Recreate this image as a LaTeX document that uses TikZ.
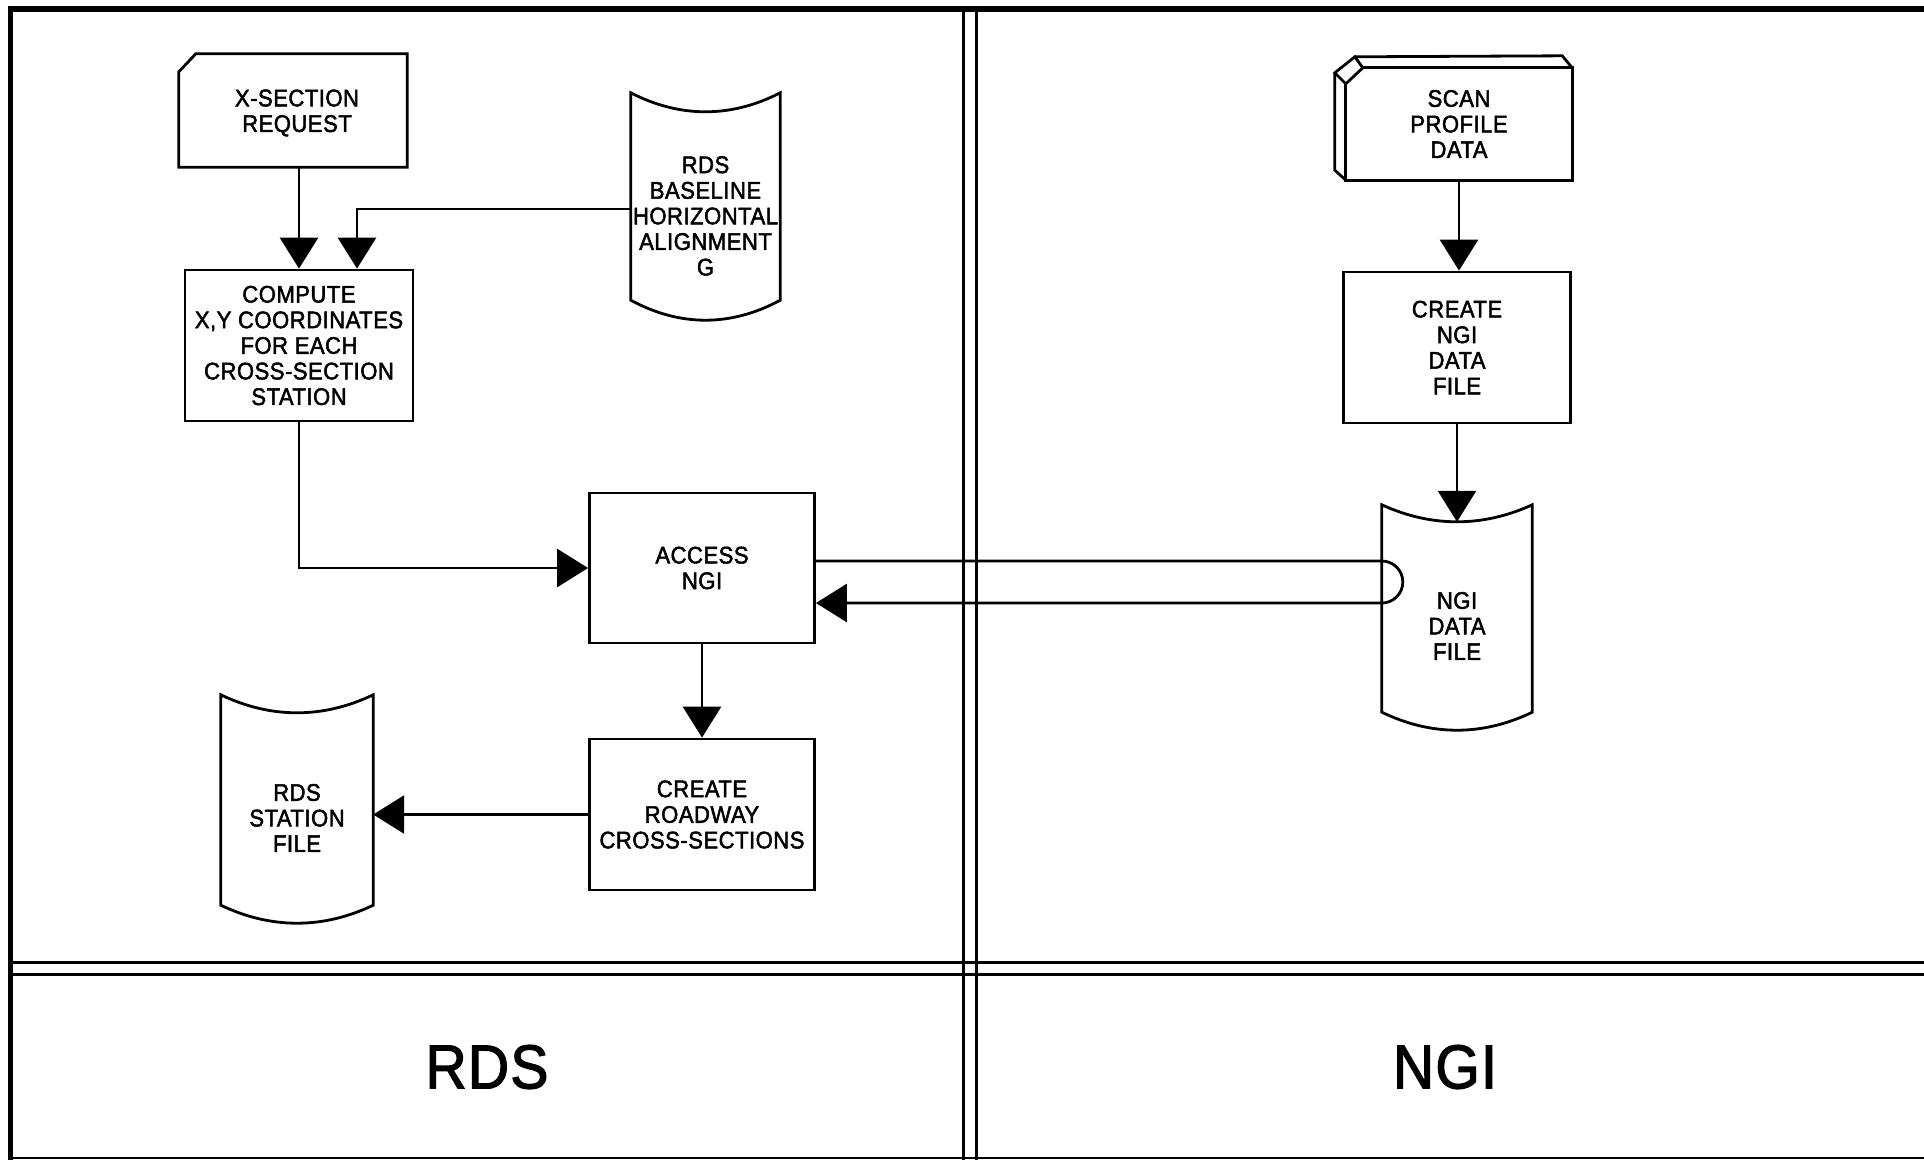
\documentclass[tikz,border=0pt]{standalone}
\usepackage{fontspec}
\setmainfont{Liberation Sans}[FakeBold=2,FakeStretch=0.92,LetterSpace=2]
\usetikzlibrary{arrows.meta,calc}
\newcommand\docoutline[3]{%
  \draw[outl] ($(#1.north west)+(0,-#2)$) -- ($(#1.south west)+(0,-#3)$)
    .. controls ($(#1.south west)!0.33!(#1.south east)+(0,#3/3)$)
    and ($(#1.south west)!0.67!(#1.south east)+(0,#3/3)$) .. ($(#1.south east)+(0,-#3)$)
    -- ($(#1.north east)+(0,-#2)$)
    .. controls ($(#1.north west)!0.67!(#1.north east)+(0,#2/3)$)
    and ($(#1.north west)!0.33!(#1.north east)+(0,#2/3)$) .. cycle;}
\begin{document}
\begin{tikzpicture}[x=1pt,y=-1pt,
  outl/.style={line width=2.8pt, line join=miter},
  txt/.style={inner sep=0pt, align=center, font=\fontsize{24}{25.6}\selectfont},
  box/.style={txt, draw, outl},
  arr/.style={line width=2.8pt, -{Triangle[length=31pt,width=38pt]}},
  frame/.style={line width=3pt}]
\useasboundingbox (0,0) rectangle (1924,1160);
% frame
\draw[line width=6pt] (8,9) -- (1924,9);
\draw[line width=5pt] (10,7) -- (10,1160);
\draw[frame] (963,7) -- (963,1160);
\draw[frame] (976,7) -- (976,1160);
\draw[frame] (8,962) -- (1924,962);
\draw[frame] (8,974) -- (1924,974);
\draw[line width=2pt] (8,1158) -- (1924,1158);
% nodes
\node[txt, minimum width=228pt, minimum height=113pt] (xreq) at (293,110.5) {};
\node[txt] (xreqt) at (297,113) {X-SECTION\\REQUEST};
\draw[outl] ($(xreq.north west)+(0,18)$) -- ($(xreq.north west)+(17,0)$) -- (xreq.north east)
  -- (xreq.south east) -- (xreq.south west) -- cycle;
\node[box, minimum width=228pt, minimum height=151pt] (compute) at (299,345.5)
  {COMPUTE\\X,Y COORDINATES\\FOR EACH\\CROSS-SECTION\\STATION};
\node[txt, minimum width=149pt, minimum height=208pt] (rdsbase) at (705.5,216)
  {RDS\\BASELINE\\HORIZONTAL\\ALIGNMENT\\G};
\docoutline{rdsbase}{19}{20}
\node[box, minimum width=225pt, minimum height=150pt] (access) at (702,568) {ACCESS\\NGI};
\node[box, minimum width=225pt, minimum height=151pt] (roadway) at (702,814.5)
  {CREATE\\ROADWAY\\CROSS-SECTIONS};
\node[txt, minimum width=152pt, minimum height=210pt] (station) at (297,818)
  {RDS\\STATION\\FILE};
\docoutline{station}{18}{18}
\node[txt, minimum width=226pt, minimum height=112pt] (scan) at (1459,124)
  {SCAN\\PROFILE\\DATA};
\draw[outl] ($(scan.north west)+(17,0)$) -- (scan.north east) -- (scan.south east)
  -- (scan.south west) -- ($(scan.north west)+(0,16)$);
\draw[outl] ($(scan.north west)+(-11,5)$) -- ($(scan.north west)+(9,-11)$)
  -- ($(scan.north west)+(17,0)$) -- ($(scan.north west)+(0,16)$) -- cycle;
\draw[outl] ($(scan.north west)+(9,-11)$) -- ($(scan.north east)+(-10,-12)$) -- (scan.north east);
\draw[outl] ($(scan.north west)+(-11,5)$) -- ($(scan.south west)+(-11,-10)$) -- (scan.south west);
\node[box, minimum width=227pt, minimum height=151pt] (createngi) at (1457,347.5)
  {CREATE\\NGI\\DATA\\FILE};
\node[txt, minimum width=150pt, minimum height=208pt] (ngifile) at (1457,626)
  {NGI\\DATA\\FILE};
\docoutline{ngifile}{17}{18}
\node[font=\fontsize{62}{62}\selectfont, inner sep=0pt] (rdslab) at (487,1067) {RDS};
\node[font=\fontsize{62}{62}\selectfont, inner sep=0pt] (ngilab) at (1445,1067) {NGI};
% connectors
\draw[arr] (xreq.south -| compute.north) -- (compute.north);
\coordinate (b1) at ($(rdsbase.west)+(0,-7)$);
\draw[arr] (b1) -| ($(compute.north)+(58,0)$);
\draw[arr] (compute.south) |- (access.west);
\draw[arr] (access.south) -- (roadway.north);
\draw[arr] (roadway.west) -- (roadway.west -| station.east);
\draw[arr] (scan.south) -- (scan.south |- createngi.north);
\draw[arr] (createngi.south) -- (ngifile.north);
\coordinate (la) at ($(access.east)+(0,-7)$);
\coordinate (lb) at ($(access.east)+(0,35)$);
\draw[arr] (la) -- (la -| ngifile.west) arc[start angle=90, end angle=-90, radius=21pt]
  -- (lb);
\end{tikzpicture}
\end{document}
